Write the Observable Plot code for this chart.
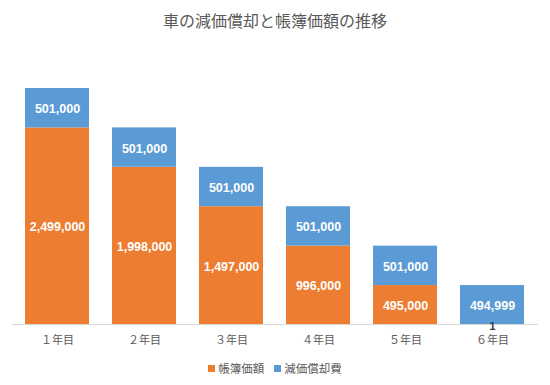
<!DOCTYPE html>
<html>
<head>
<meta charset="utf-8">
<script src="https://cdn.jsdelivr.net/npm/d3@7"></script>
<script src="https://cdn.jsdelivr.net/npm/@observablehq/plot@0.6"></script>
<style>
  body { margin: 0; background: #fff; font-family: "Noto Sans CJK JP", sans-serif; }
  #wrap { width: 550px; height: 385px; position: relative; overflow: hidden; }
  #title { height: 40px; line-height: 40px; text-align: center; font-size: 16px; color: #595959; }
  #legend { display: flex; justify-content: center; align-items: center; height: 20px; margin-top: 3px; font-size: 11.5px; color: #595959; }
  .item { display: flex; align-items: center; margin: 0 5px; }
  .sw { width: 7px; height: 7px; margin-right: 3px; }
  svg { display: block; }
</style>
</head>
<body>
<div id="wrap">
  <div id="title">車の減価償却と帳簿価額の推移</div>
  <div id="chart"></div>
  <div id="legend"></div>
</div>
<script>
const years = ["１年目", "２年目", "３年目", "４年目", "５年目", "６年目"];
const seriesNames = ["帳簿価額", "減価償却費"];
const seriesColors = ["#ED7D31", "#5B9BD5"];
const bookValue = [2499000, 1998000, 1497000, 996000, 495000, 1];
const depreciation = [501000, 501000, 501000, 501000, 501000, 494999];

const data = [];
years.forEach((y, i) => data.push({ year: y, series: seriesNames[0], value: bookValue[i] }));
years.forEach((y, i) => data.push({ year: y, series: seriesNames[1], value: depreciation[i] }));

const fmt = d3.format(",");
const small = d => d.value < 1000;

const labelOpts = {
  x: "year", y: "value", z: "series", order: seriesNames,
  fontSize: 12.5, fontWeight: "bold",
  fontFamily: "Liberation Sans, Arial, sans-serif"
};

const chart = Plot.plot({
  width: 550,
  height: 315,
  marginTop: 48,
  marginBottom: 31,
  marginLeft: 12,
  marginRight: 12,
  style: { fontFamily: "Noto Sans CJK JP, sans-serif", background: "white" },
  x: { domain: years, paddingInner: 0.26, paddingOuter: 0.13, label: null },
  y: { domain: [0, 3000000], axis: null },
  color: { domain: seriesNames, range: seriesColors },
  marks: [
    Plot.barY(data, { x: "year", y: "value", fill: "series", z: "series", order: seriesNames }),
    Plot.ruleY([0], { stroke: "#d9d9d9", strokeWidth: 1 }),
    Plot.text(data, Plot.stackY({
      ...labelOpts,
      text: d => small(d) ? "" : fmt(d.value),
      fill: "white", dy: 1
    })),
    Plot.text(data, Plot.stackY({
      ...labelOpts,
      text: d => small(d) ? fmt(d.value) : "",
      fill: "#404040", dy: 2, fontSize: 11.5
    })),
    Plot.axisX({ tickSize: 0, tickPadding: 12, fontSize: 11, fill: "#595959", label: null })
  ]
});
document.getElementById("chart").appendChild(chart);

const legend = document.getElementById("legend");
seriesNames.forEach((n, i) => {
  const it = document.createElement("div");
  it.className = "item";
  const sw = document.createElement("div");
  sw.className = "sw";
  sw.style.background = seriesColors[i];
  const t = document.createElement("span");
  t.textContent = n;
  it.appendChild(sw); it.appendChild(t);
  legend.appendChild(it);
});
</script>
</body>
</html>
